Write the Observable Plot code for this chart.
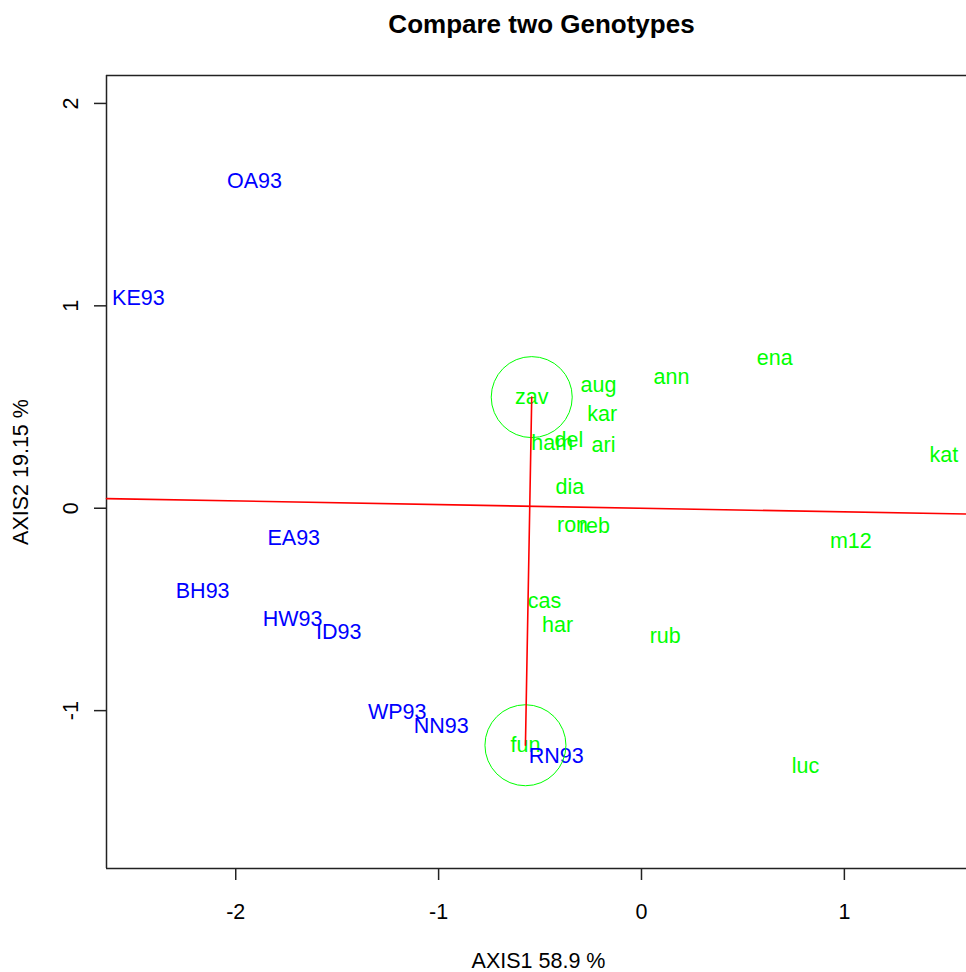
<!DOCTYPE html>
<html>
<head>
<meta charset="utf-8">
<script src="https://cdn.jsdelivr.net/npm/d3@7"></script>
<script src="https://cdn.jsdelivr.net/npm/@observablehq/plot@0.6"></script>
<style>
  body { margin: 0; background: #fff; }
  svg { display: block; }
</style>
</head>
<body>
<div id="chart"></div>
<script>
// GGE biplot scores: genotypes (green) and environments (blue)
const genotypes = ["ena", "ann", "aug", "zav", "kar", "ham", "del", "ari", "kat", "dia",
                   "ron", "reb", "m12", "cas", "har", "rub", "fun", "luc"];
const genoAxis1 = [0.657, 0.148, -0.212, -0.541, -0.194, -0.440, -0.358, -0.187, 1.490, -0.353,
                   -0.340, -0.232, 1.032, -0.478, -0.414, 0.117, -0.572, 0.808];
const genoAxis2 = [0.742, 0.648, 0.610, 0.549, 0.465, 0.322, 0.335, 0.314, 0.261, 0.103,
                   -0.082, -0.089, -0.164, -0.460, -0.579, -0.633, -1.171, -1.275];

const environments = ["OA93", "KE93", "EA93", "BH93", "HW93", "ID93", "WP93", "NN93", "RN93"];
const envAxis1 = [-1.908, -2.480, -1.714, -2.163, -1.720, -1.492, -1.204, -0.987, -0.420];
const envAxis2 = [1.614, 1.036, -0.149, -0.409, -0.549, -0.613, -1.009, -1.075, -1.223];

// the two genotypes being compared
const compared = ["zav", "fun"];

// axis settings
const xTicks = [-2, -1, 0, 1];
const yTicks = [-1, 0, 1, 2];
const xLimits = [-2.637, 1.602];
const yLimits = [-1.780, 2.138];

const genoRows = genotypes.map((name, i) => ({name, a1: genoAxis1[i], a2: genoAxis2[i]}));
const envRows = environments.map((name, i) => ({name, a1: envAxis1[i], a2: envAxis2[i]}));
const pair = compared.map(n => genoRows.find(d => d.name === n));

// line through the origin, perpendicular to the segment joining the two genotypes
const dx = pair[1].a1 - pair[0].a1;
const dy = pair[1].a2 - pair[0].a2;
const slope = -dx / dy;
const perpendicular = xLimits.map(x => ({a1: x, a2: slope * x}));

const font = "'Liberation Sans', Arial, Helvetica, sans-serif";
const GREEN = "#00ff00";
const BLUE = "#0000ff";
const RED = "#ff0000";
const INK = "#222222";

const chart = Plot.plot({
  width: 966,
  height: 972,
  marginTop: 75,
  marginBottom: 104,
  marginLeft: 106,
  marginRight: 0,
  x: {domain: xLimits},
  y: {domain: yLimits},
  style: {fontFamily: font, background: "#ffffff", color: "#000000"},
  marks: [
    // plot box (left, top, bottom)
    Plot.ruleX([xLimits[0]], {stroke: INK, strokeWidth: 1.5}),
    Plot.ruleY([yLimits[0], yLimits[1]], {stroke: INK, strokeWidth: 1.5}),
    Plot.axisX({
      ticks: xTicks, tickSize: 12, tickPadding: 23, fontSize: 21.5,
      tickFormat: d => `${d}`, label: null, stroke: INK, strokeWidth: 1.5
    }),
    Plot.axisY({
      ticks: yTicks, tickSize: 12, tickPadding: 23, fontSize: 21.5,
      tickRotate: -90, textAnchor: "middle", lineAnchor: "middle",
      tickFormat: d => `${d}`, label: null, stroke: INK, strokeWidth: 1.5
    }),
    // genotype and environment labels
    Plot.text(genoRows, {x: "a1", y: "a2", text: "name", fill: GREEN, fontSize: 21.5}),
    Plot.text(envRows, {x: "a1", y: "a2", text: "name", fill: BLUE, fontSize: 21.5}),
    // circles around the compared genotypes
    Plot.dot(pair, {x: "a1", y: "a2", r: 40.5, stroke: GREEN, strokeWidth: 1, fill: "none"}),
    // connecting segment and its perpendicular through the origin
    Plot.line(pair, {x: "a1", y: "a2", stroke: RED, strokeWidth: 1.6}),
    Plot.line(perpendicular, {x: "a1", y: "a2", stroke: RED, strokeWidth: 1.6}),
    // title and axis titles
    Plot.text(["Compare two Genotypes"], {
      frameAnchor: "top", textAnchor: "middle", lineAnchor: "middle",
      dx: 5, dy: -51, fontSize: 26, fontWeight: "bold", fill: "#000"
    }),
    Plot.text(["AXIS1 58.9 %"], {
      frameAnchor: "bottom", textAnchor: "middle", lineAnchor: "middle",
      dx: 2, dy: 93, fontSize: 21.5, fill: "#000"
    }),
    Plot.text(["AXIS2 19.15 %"], {
      frameAnchor: "left", textAnchor: "middle", lineAnchor: "middle",
      dx: -85, rotate: -90, fontSize: 21.5, fill: "#000"
    })
  ]
});

document.getElementById("chart").append(chart);
</script>
</body>
</html>
